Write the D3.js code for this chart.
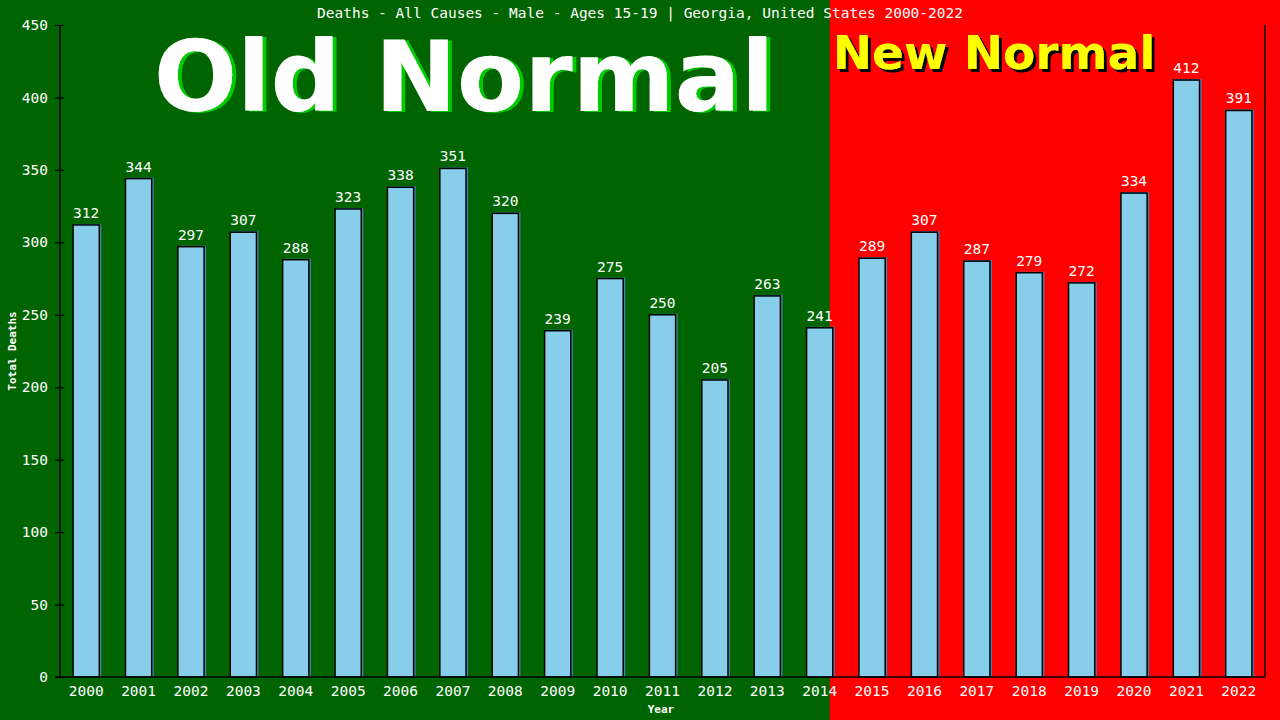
<!DOCTYPE html>
<html>
<head>
<meta charset="utf-8">
<script src="https://cdn.jsdelivr.net/npm/d3@7"></script>
<style>
body { margin: 0; background: #006400; }
text { font-family: "DejaVu Sans Mono", "Liberation Mono", monospace; }
</style>
</head>
<body>
<div id="chart"></div>
<script>
var width = 1280;
var height = 720;

const years = ["2000","2001","2002","2003","2004","2005","2006","2007","2008","2009","2010","2011",
    "2012","2013","2014","2015","2016","2017","2018","2019","2020","2021","2022"];
const deaths = [312,344,297,307,288,323,338,351,320,239,275,250,205,263,241,289,307,287,279,272,334,412,391];
const yTicks = [0,50,100,150,200,250,300,350,400,450];

const margin = { left: 60, right: 15, top: 25, bottom: 43 };

const svg = d3.select("#chart")
    .append("svg")
    .attr("width", width)
    .attr("height", height);

// drop shadows for the two big labels
var defs = svg.append("defs");
defs.append("filter").attr("id", "greenShadow")
    .attr("x", "-5%").attr("y", "-10%").attr("width", "110%").attr("height", "130%")
    .append("feDropShadow")
    .attr("dx", 4).attr("dy", 1).attr("stdDeviation", 0)
    .attr("flood-color", "#00cc00").attr("flood-opacity", 1);
defs.append("filter").attr("id", "blackShadow")
    .attr("x", "-5%").attr("y", "-10%").attr("width", "110%").attr("height", "130%")
    .append("feDropShadow")
    .attr("dx", 3).attr("dy", 3).attr("stdDeviation", 0.5)
    .attr("flood-color", "#000").attr("flood-opacity", 1);

var x = d3.scaleBand()
    .domain(years)
    .range([margin.left, width - margin.right])
    .paddingInner(0.5)
    .paddingOuter(0.25);

var y = d3.scaleLinear()
    .domain([0, 450])
    .range([height - margin.bottom, margin.top]);

// background split: old normal (green) / new normal (red)
var splitX = x("2014") + x.bandwidth() - 3;
svg.append("rect").attr("x", 0).attr("y", 0).attr("width", splitX).attr("height", height).attr("fill", "#006400");
svg.append("rect").attr("x", splitX).attr("y", 0).attr("width", width - splitX).attr("height", height).attr("fill", "#ff0000");

// big labels
svg.append("text")
    .attr("x", 464).attr("y", 111)
    .attr("text-anchor", "middle")
    .style("font-family", "'DejaVu Sans', Verdana, sans-serif")
    .style("font-weight", "bold")
    .style("font-size", "98px")
    .attr("fill", "#ffffff")
    .attr("filter", "url(#greenShadow)")
    .text("Old Normal");

svg.append("text")
    .attr("x", 994).attr("y", 69)
    .attr("text-anchor", "middle")
    .style("font-family", "'DejaVu Sans', Verdana, sans-serif")
    .style("font-weight", "bold")
    .style("font-size", "47px")
    .attr("fill", "#ffff00")
    .attr("filter", "url(#blackShadow)")
    .text("New Normal");

// title
svg.append("text")
    .attr("x", 640).attr("y", 18)
    .attr("text-anchor", "middle")
    .attr("fill", "#fff")
    .style("font-size", "14.5px")
    .text("Deaths - All Causes - Male - Ages 15-19 | Georgia, United States 2000-2022");

// bars
var bars = svg.selectAll(".bar")
    .data(years)
    .enter().append("g")
    .attr("class", "bar");

bars.append("rect")
    .attr("x", d => x(d) + 1)
    .attr("y", (d, i) => y(deaths[i]) - 1)
    .attr("width", x.bandwidth() + 1)
    .attr("height", (d, i) => y(0) - y(deaths[i]) + 1)
    .attr("fill", "#4682b4");

bars.append("rect")
    .attr("x", d => x(d))
    .attr("y", (d, i) => y(deaths[i]))
    .attr("width", x.bandwidth())
    .attr("height", (d, i) => y(0) - y(deaths[i]))
    .attr("fill", "#87ceeb")
    .attr("stroke", "#000")
    .attr("stroke-width", 1.5);

bars.append("text")
    .attr("x", d => x(d) + x.bandwidth() / 2)
    .attr("y", (d, i) => y(deaths[i]) - 7)
    .attr("text-anchor", "middle")
    .attr("fill", "#fff")
    .style("font-size", "14.5px")
    .text((d, i) => deaths[i]);

// y axis
var yAxis = svg.append("g")
    .attr("transform", "translate(" + margin.left + ",0)")
    .call(d3.axisLeft(y).tickValues(yTicks).tickSize(5).tickPadding(7));
yAxis.select(".domain").attr("stroke", "#000").attr("stroke-width", 1.5)
    .attr("d", "M0," + margin.top + "V" + y(0));
yAxis.selectAll(".tick line").attr("stroke", "#000").attr("x1", -5).attr("x2", 4).attr("stroke-width", 1.2);
yAxis.selectAll(".tick text").attr("fill", "#fff").style("font-size", "14.5px")
    .style("font-family", "'DejaVu Sans Mono', monospace");

// x axis
var xAxis = svg.append("g")
    .attr("transform", "translate(0," + y(0) + ")")
    .call(d3.axisBottom(x).tickSize(0).tickPadding(9));
xAxis.select(".domain").attr("stroke", "#000").attr("stroke-width", 1.5)
    .attr("d", "M" + (margin.left - 5) + ",0H" + (width - margin.right));
xAxis.selectAll(".tick text").attr("fill", "#fff").style("font-size", "14.5px")
    .style("font-family", "'DejaVu Sans Mono', monospace");

// right border
svg.append("line")
    .attr("x1", width - margin.right).attr("x2", width - margin.right)
    .attr("y1", margin.top).attr("y2", y(0))
    .attr("stroke", "#000").attr("stroke-width", 1.5);

// axis titles
svg.append("text")
    .attr("x", 661).attr("y", 713)
    .attr("text-anchor", "middle")
    .attr("fill", "#fff")
    .style("font-size", "11px")
    .style("font-weight", "bold")
    .text("Year");

svg.append("text")
    .attr("transform", "translate(16," + 351 + ") rotate(-90)")
    .attr("text-anchor", "middle")
    .attr("fill", "#fff")
    .style("font-size", "11px")
    .style("font-weight", "bold")
    .text("Total Deaths");
</script>
</body>
</html>
